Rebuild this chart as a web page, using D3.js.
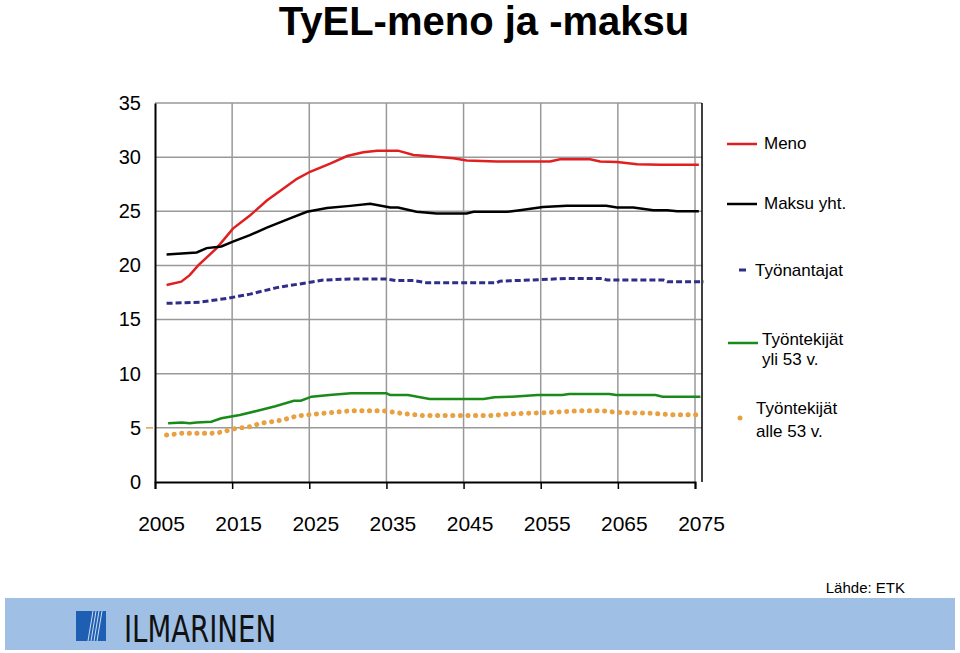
<!DOCTYPE html>
<html><head><meta charset="utf-8">
<script src="https://cdn.jsdelivr.net/npm/d3@7"></script>
<style>body{margin:0;background:#fff;font-family:Arial,"Liberation Sans",sans-serif}</style>
</head><body><svg id="c" width="960" height="653"></svg>
<script>
const xTicks=[2005,2015,2025,2035,2045,2055,2065,2075];
const yTicks=[0,5,10,15,20,25,30,35];
const meno=[[2006.5,18.2],[2008.4,18.5],[2009.5,19.1],[2010.6,20],[2013,21.6],[2015.1,23.4],[2017.3,24.6],[2019.5,26],[2023.4,28],[2025.1,28.65],[2027.7,29.4],[2029.9,30.1],[2032,30.45],[2033.8,30.6],[2036.5,30.6],[2038.5,30.2],[2040.2,30.1],[2043.7,29.9],[2045.4,29.7],[2049.3,29.6],[2056.2,29.6],[2057.5,29.8],[2061.4,29.8],[2062.7,29.6],[2064.9,29.55],[2067.5,29.35],[2070.5,29.3],[2075.5,29.3]];
const maksu=[[2006.5,21],[2010.4,21.2],[2011.7,21.6],[2013.6,21.75],[2015.1,22.2],[2017.3,22.8],[2019.5,23.5],[2022.5,24.35],[2024.7,24.95],[2027.3,25.3],[2030.3,25.5],[2032.9,25.7],[2035.5,25.35],[2036.5,25.35],[2038.9,24.95],[2041.5,24.8],[2045.4,24.8],[2046.3,24.95],[2050.6,24.95],[2052.3,25.1],[2055.3,25.4],[2058.4,25.5],[2063.5,25.5],[2064.9,25.35],[2067,25.35],[2069.6,25.1],[2071.4,25.1],[2072.7,25],[2075.5,25]];
const tyonantajat=[[2006.5,16.5],[2010.8,16.6],[2014.3,16.95],[2017.3,17.35],[2020.8,17.95],[2024.7,18.4],[2026.8,18.65],[2030.3,18.75],[2035,18.75],[2036.3,18.6],[2038.5,18.6],[2040.2,18.4],[2049.3,18.4],[2049.7,18.55],[2053.6,18.65],[2058.4,18.8],[2063.1,18.8],[2063.6,18.65],[2070.9,18.65],[2071.4,18.5],[2076.1,18.5]];
const yli53=[[2006.7,5.42],[2008.5,5.5],[2009.5,5.42],[2010.4,5.5],[2012.3,5.57],[2013.6,5.88],[2016,6.19],[2018.3,6.58],[2020.6,7],[2023,7.5],[2023.9,7.5],[2025.3,7.88],[2027.6,8.03],[2030.4,8.19],[2035,8.19],[2035.5,8.03],[2037.8,8.03],[2040.6,7.66],[2047.6,7.66],[2049,7.82],[2051.3,7.88],[2054.6,8.03],[2057.8,8.03],[2058.7,8.13],[2063.9,8.13],[2064.8,8.03],[2069.9,8.03],[2070.8,7.88],[2075.7,7.88]];
const alle53=[[2006.5,4.34],[2008.5,4.5],[2012.3,4.5],[2013.6,4.6],[2015.5,4.95],[2017.3,5.1],[2018.7,5.42],[2021.5,5.72],[2023.4,6.1],[2026.7,6.34],[2030.4,6.58],[2034.6,6.58],[2036.9,6.34],[2039.7,6.13],[2048.5,6.13],[2050.8,6.28],[2055.5,6.4],[2060.1,6.58],[2063,6.58],[2064.8,6.43],[2069.4,6.34],[2071.8,6.22],[2075.7,6.22]];

const svg=d3.select("#c");
const x=d3.scaleLinear().domain([2005,2075]).range([155,695]);
const y=d3.scaleLinear().domain([0,35]).range([482,103]);
svg.append("text").attr("x",484).attr("y",35).attr("text-anchor","middle").attr("font-size",40).attr("font-weight","bold").text("TyEL-meno ja -maksu");
svg.append("g").selectAll("line").data(yTicks.slice(1)).join("line").attr("x1",155).attr("x2",702).attr("y1",d=>y(d)).attr("y2",d=>y(d)).attr("stroke","#999").attr("stroke-width",1.5);
svg.append("g").selectAll("line").data(xTicks.slice(1)).join("line").attr("x1",d=>x(d)).attr("x2",d=>x(d)).attr("y1",103).attr("y2",482).attr("stroke","#999").attr("stroke-width",1.5);
svg.append("line").attr("x1",702).attr("x2",702).attr("y1",103).attr("y2",482).attr("stroke","#000").attr("stroke-width",1.5);
const ya=svg.append("g").attr("transform","translate(155,0)").call(d3.axisLeft(y).tickValues(yTicks).tickSize(0).tickPadding(14));
ya.select(".domain").attr("stroke","#000").attr("stroke-width",2);
ya.selectAll("text").attr("font-size",20).attr("font-family","Arial,Liberation Sans");
const xa=svg.append("g").attr("transform","translate(0,482)").call(d3.axisBottom(x).tickValues(xTicks).tickSize(7).tickPadding(27).tickFormat(d3.format("d")));
xa.select(".domain").attr("stroke","#000").attr("stroke-width",2);
xa.selectAll("line").attr("stroke","#000").attr("stroke-width",1.5);
xa.selectAll("text").attr("font-size",21).attr("font-family","Arial,Liberation Sans").attr("dx",6);
const line=d3.line().x(d=>x(d[0])).y(d=>y(d[1]));
const series=[
 {d:meno,c:"#e02020",w:2.5,dash:null},
 {d:maksu,c:"#000",w:2.5,dash:null},
 {d:tyonantajat,c:"#2e2e8a",w:3,dash:"6,3"},
 {d:yli53,c:"#1a8a1a",w:2.5,dash:null},
 {d:alle53,c:"#e8a040",w:5,dash:"0.1,7.5",cap:"round"}];
series.forEach(s=>svg.append("path").attr("d",line(s.d)).attr("fill","none").attr("stroke",s.c).attr("stroke-width",s.w).attr("stroke-dasharray",s.dash).attr("stroke-linecap",s.cap||"butt"));
svg.append("line").attr("x1",146).attr("x2",153).attr("y1",y(5)).attr("y2",y(5)).attr("stroke","#e8a040").attr("stroke-width",1.5);
const lg=svg.append("g").attr("font-size",17).attr("font-family","Arial,Liberation Sans");
lg.append("line").attr("x1",727).attr("x2",757).attr("y1",144).attr("y2",144).attr("stroke","#e02020").attr("stroke-width",2.5);
lg.append("text").attr("x",764).attr("y",149).text("Meno");
lg.append("line").attr("x1",727).attr("x2",757).attr("y1",204).attr("y2",204).attr("stroke","#000").attr("stroke-width",2.5);
lg.append("text").attr("x",764).attr("y",209).text("Maksu yht.");
lg.append("line").attr("x1",739).attr("x2",746).attr("y1",270).attr("y2",270).attr("stroke","#2e2e8a").attr("stroke-width",3);
lg.append("text").attr("x",755).attr("y",276).text("Työnantajat");
lg.append("line").attr("x1",728).attr("x2",758).attr("y1",343).attr("y2",343).attr("stroke","#1a8a1a").attr("stroke-width",2.5);
lg.append("text").attr("x",762).attr("y",345).text("Työntekijät");
lg.append("text").attr("x",762).attr("y",365).text("yli 53 v.");
lg.append("circle").attr("cx",740).attr("cy",418).attr("r",2.5).attr("fill","#e8a040");
lg.append("text").attr("x",756).attr("y",414).text("Työntekijät");
lg.append("text").attr("x",756).attr("y",437).text("alle 53 v.");
svg.append("text").attr("x",905).attr("y",593).attr("text-anchor","end").attr("font-size",15).text("Lähde: ETK");
svg.append("rect").attr("x",5).attr("y",598).attr("width",950).attr("height",52).attr("fill","#9fbfe5");
svg.append("rect").attr("x",76).attr("y",611).attr("width",30).attr("height",30).attr("fill","#1e5fb4");
[0,1,2,3].forEach(i=>svg.append("line").attr("x1",93+i*3).attr("x2",88+i*3).attr("y1",611).attr("y2",641).attr("stroke","#fff").attr("stroke-width",0.8));
svg.append("text").attr("x",124).attr("y",642).attr("font-size",38).attr("font-family","Liberation Sans Narrow,DejaVu Sans Condensed,sans-serif").attr("textLength",152).attr("lengthAdjust","spacingAndGlyphs").attr("fill","#111").text("ILMARINEN");
</script></body></html>
